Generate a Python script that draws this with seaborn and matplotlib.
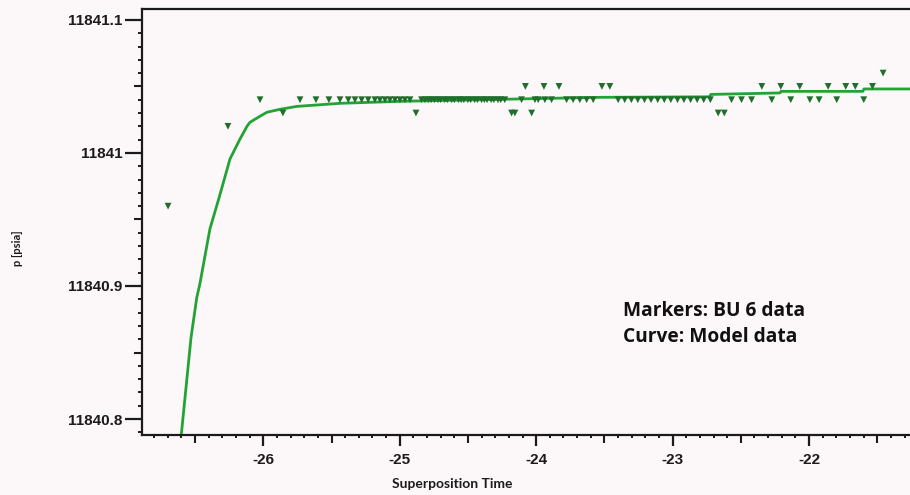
import matplotlib
matplotlib.use("Agg")
import matplotlib.pyplot as plt
from matplotlib.ticker import FixedLocator, FuncFormatter, NullFormatter
import numpy as np
import pandas as pd
import seaborn as sns

# Build-up 6 gauge readings (superposition time, pressure in psia)
marker_time = [
    -26.698, -26.259, -26.024, -25.856, -25.731, -25.614, -25.519, -25.438,
    -25.377, -25.328, -25.279, -25.231, -25.182, -25.145, -25.108, -25.072,
    -25.035, -24.998, -24.962, -24.925, -24.881,
    -24.840, -24.815, -24.790, -24.770, -24.745, -24.720, -24.700, -24.670,
    -24.650, -24.620, -24.600, -24.570, -24.550, -24.530, -24.500, -24.480,
    -24.450, -24.430, -24.400, -24.380, -24.360, -24.330, -24.310, -24.280,
    -24.260, -24.230,
    -24.180, -24.156, -24.107, -24.079, -24.033, -24.009, -23.985, -23.943,
    -23.936, -23.887, -23.833, -23.777, -23.729, -23.680, -23.630, -23.582,
    -23.518, -23.460,
    -23.399, -23.351, -23.302, -23.255, -23.206, -23.158, -23.109, -23.061,
    -23.013, -22.964, -22.917, -22.868, -22.820, -22.772, -22.723,
    -22.666, -22.621, -22.568, -22.495, -22.421, -22.346, -22.273, -22.207,
    -22.134, -22.068, -21.994, -21.926, -21.860, -21.797, -21.731, -21.661,
    -21.599, -21.535, -21.457,
]
marker_p = [
    11840.96, 11841.02, 11841.04, 11841.03, 11841.04, 11841.04, 11841.04, 11841.04,
    11841.04, 11841.04, 11841.04, 11841.04, 11841.04, 11841.04, 11841.04, 11841.04,
    11841.04, 11841.04, 11841.04, 11841.04, 11841.03,
    11841.04, 11841.04, 11841.04, 11841.04, 11841.04, 11841.04, 11841.04, 11841.04,
    11841.04, 11841.04, 11841.04, 11841.04, 11841.04, 11841.04, 11841.04, 11841.04,
    11841.04, 11841.04, 11841.04, 11841.04, 11841.04, 11841.04, 11841.04, 11841.04,
    11841.04, 11841.04,
    11841.03, 11841.03, 11841.04, 11841.05, 11841.03, 11841.04, 11841.04, 11841.05,
    11841.04, 11841.04, 11841.05, 11841.04, 11841.04, 11841.04, 11841.04, 11841.04,
    11841.05, 11841.05,
    11841.04, 11841.04, 11841.04, 11841.04, 11841.04, 11841.04, 11841.04, 11841.04,
    11841.04, 11841.04, 11841.04, 11841.04, 11841.04, 11841.04, 11841.04,
    11841.03, 11841.03, 11841.04, 11841.04, 11841.04, 11841.05, 11841.04, 11841.05,
    11841.04, 11841.05, 11841.04, 11841.04, 11841.05, 11841.04, 11841.05, 11841.05,
    11841.04, 11841.05, 11841.06,
]

# Model response
curve_time = [
    -26.609, -26.530, -26.488, -26.464, -26.391, -26.325, -26.244, -26.171,
    -26.119, -26.097, -26.024, -25.973, -25.878, -25.753, -25.438, -24.998,
    -23.533, -22.729, -22.720, -22.214, -22.205, -21.606, -21.597, -21.200,
]
curve_p = [
    11840.780, 11840.861, 11840.891, 11840.902, 11840.943, 11840.966, 11840.9955, 11841.0104,
    11841.0201, 11841.0231, 11841.0276, 11841.0306, 11841.0328, 11841.0350, 11841.0373, 11841.0388,
    11841.0418, 11841.0422, 11841.0440, 11841.0451, 11841.0463, 11841.0463, 11841.0481, 11841.0481,
]

y_ticks = [11840.8, 11840.9, 11841.0, 11841.1]
x_ticks = [-26, -25, -24, -23, -22]

markers = pd.DataFrame({"t": marker_time, "p": marker_p})
model = pd.DataFrame({"t": curve_time, "p": curve_p})

sns.set_style("ticks")
bg = "#fcf7f9"
ink = "#1b1b1b"
tick_font = ["Liberation Sans", "DejaVu Sans"]
label_font = ["Lato", "DejaVu Sans"]
note_font = ["Open Sans", "DejaVu Sans"]

fig = plt.figure(figsize=(9.10, 4.95), dpi=100, facecolor=bg)
ax = fig.add_axes([142 / 910, 60 / 495, 1 - 142 / 910, 426 / 495])
ax.set_facecolor(bg)

sns.lineplot(data=model, x="t", y="p", ax=ax, color="#23a336", linewidth=2.0,
             sort=False, estimator=None, zorder=2)
sns.scatterplot(data=markers, x="t", y="p", ax=ax, marker="v", s=24,
                color="#1f6e2c", edgecolor="none", linewidth=0, zorder=3)

ax.set_xlim(-26.889, -21.26)
ax.set_ylim(11840.788, 11841.1082)

for side in ("top", "left", "bottom"):
    ax.spines[side].set_linewidth(1.6)
    ax.spines[side].set_color(ink)
ax.spines["right"].set_visible(False)

ax.yaxis.set_major_locator(FixedLocator(y_ticks))
ax.yaxis.set_major_formatter(FuncFormatter(lambda v, _: f"{v:g}"))
ax.yaxis.set_minor_locator(FixedLocator(np.arange(11840.79, 11841.105, 0.01)))
ax.xaxis.set_major_locator(FixedLocator(x_ticks))
ax.xaxis.set_major_formatter(FuncFormatter(lambda v, _: f"{v:g}"))
ax.xaxis.set_minor_locator(FixedLocator(np.arange(-26.8, -21.25, 0.1)))

ax.tick_params(axis="y", which="major", length=12, width=1.6, color=ink, pad=2,
               labelsize=11, labelcolor=ink)
ax.tick_params(axis="y", which="minor", length=3, width=1.4, color=ink)
ax.tick_params(axis="x", which="major", length=8, width=1.6, color=ink, pad=5,
               labelsize=11, labelcolor=ink)
ax.tick_params(axis="x", which="minor", length=2.5, width=1.4, color=ink)
for lab in ax.get_xticklabels() + ax.get_yticklabels():
    lab.set_family(tick_font)
    lab.set_fontweight("bold")

# Intermediate ticks at half steps
sec_y = ax.secondary_yaxis("left")
sec_y.set_yticks([11840.85, 11840.95, 11841.05])
sec_y.yaxis.set_major_formatter(NullFormatter())
sec_y.tick_params(length=6, width=1.5, color=ink)
sec_y.spines["left"].set_visible(False)
sec_x = ax.secondary_xaxis("bottom")
sec_x.set_xticks([-26.5, -25.5, -24.5, -23.5, -22.5, -21.5])
sec_x.xaxis.set_major_formatter(NullFormatter())
sec_x.tick_params(length=5.5, width=1.5, color=ink)
sec_x.spines["bottom"].set_visible(False)

ax.set_xlabel("")
ax.set_ylabel("")
fig.text(452 / 910, 1 - 484 / 495, "Superposition Time", ha="center", va="center",
         fontsize=10, fontweight="bold", family=label_font, color=ink)
fig.text(17.5 / 910, 1 - 248 / 495, "p [psia]", ha="center", va="center",
         rotation=90, fontsize=8, fontweight="bold", family=label_font, color=ink)

fig.text(623 / 910, 1 - 311 / 495, "Markers: BU 6 data", ha="left", va="center",
         fontsize=13.8, fontweight="bold", family=note_font, color="#111111")
fig.text(623 / 910, 1 - 337.5 / 495, "Curve: Model data", ha="left", va="center",
         fontsize=13.8, fontweight="bold", family=note_font, color="#111111")

fig.savefig("out.png", dpi=100, facecolor=bg)
